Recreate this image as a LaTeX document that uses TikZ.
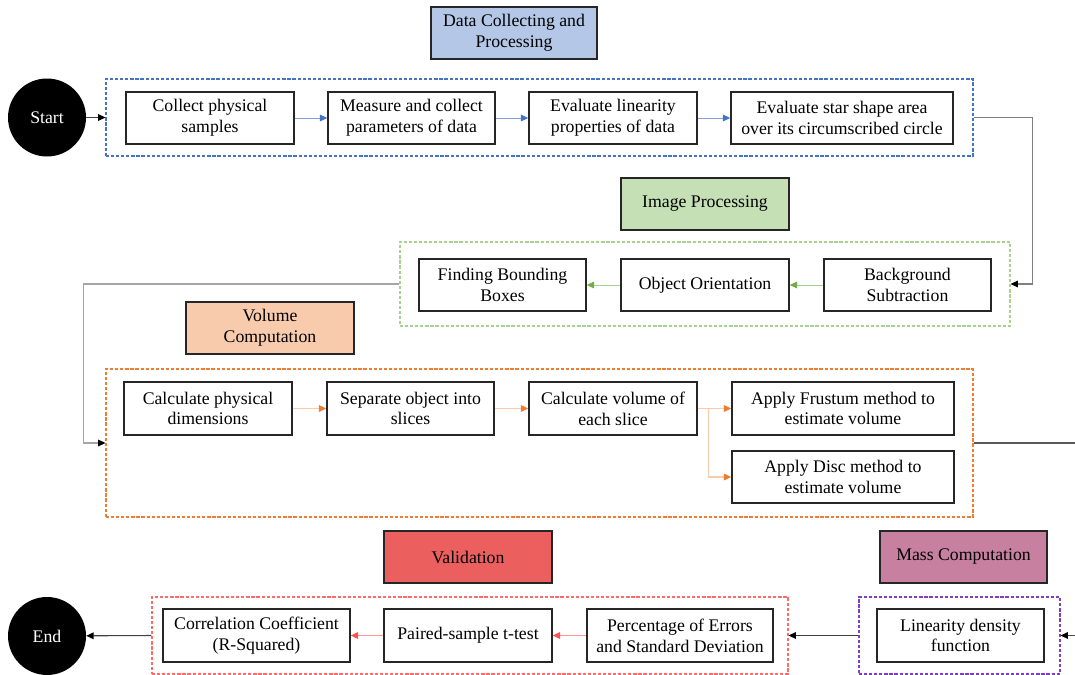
\documentclass[tikz,border=0pt]{standalone}
\usepackage{fontspec}
\setmainfont{Liberation Serif}
\usetikzlibrary{arrows.meta}
\definecolor{boxline}{HTML}{262626}
\definecolor{tblue}{HTML}{B4C7E7}
\definecolor{tgreen}{HTML}{C5E0B4}
\definecolor{tpeach}{HTML}{F8CBAD}
\definecolor{tred}{HTML}{EB5F5F}
\definecolor{tmauve}{HTML}{C880A0}
\definecolor{cblue}{HTML}{4472C4}
\definecolor{cgreen}{HTML}{A9D18E}
\definecolor{corange}{HTML}{ED7D31}
\definecolor{cred}{HTML}{FF6B6B}
\definecolor{cpurple}{HTML}{7F3FBF}
\definecolor{lblue}{HTML}{7FA0D8}
\definecolor{hblue}{HTML}{4472C4}
\definecolor{lgreen}{HTML}{A9D18E}
\definecolor{hgreen}{HTML}{70AD47}
\definecolor{lorange}{HTML}{F8CBAD}
\definecolor{horange}{HTML}{ED7D31}
\definecolor{lred}{HTML}{FF9999}
\definecolor{hred}{HTML}{FF5050}
\begin{document}
\begin{tikzpicture}[x=0.75pt,y=-0.75pt,
  txt/.style={font=\fontsize{13.3}{15.6}\selectfont},
  box/.style={draw=boxline, line width=1.1pt, fill=white, align=center, inner sep=0pt, txt},
  sz/.style 2 args={minimum width=#1*0.75pt, minimum height=#2*0.75pt},
  ttl/.style={box, fill=#1},
  cont/.style={draw=#1, dash pattern=on 2.4pt off 1.4pt, line width=0.8pt, inner sep=0pt},
  term/.style={circle, fill=black, text=white, inner sep=0pt, minimum size=58.5pt, txt},
  tipk/.style={-{Triangle[length=5.5pt,width=5pt,color=#1]}},
  arb/.style={draw=lblue, line width=0.75pt, tipk=hblue},
  arg/.style={draw=lgreen, line width=0.75pt, tipk=hgreen},
  aro/.style={draw=lorange, line width=0.9pt, tipk=horange},
  arr/.style={draw=lred, line width=0.75pt, tipk=hred},
  conn/.style={draw=#1, line width=0.8pt, tipk=black},
]
\useasboundingbox (0,0) rectangle (1075,675);
\clip (0,0) rectangle (1075,675);

% terminals
\node[term] (start) at (47,117.5) {Start};
\node[term] (end) at (47,636) {End};

% titles
\node[ttl=tblue, sz={166}{52}] (t1) at (514,33) {Data Collecting and\\Processing};
\node[ttl=tgreen, sz={168}{52}] (t2) at (705,204) {Image Processing};
\node[ttl=tpeach, sz={168}{52}] (t3) at (270,328) {Volume\\Computation};
\node[ttl=tred, sz={168}{52}] (t4) at (468,557) {Validation};
\node[ttl=tmauve, sz={167}{52}] (t5) at (963.5,557) {Mass Computation};

% containers
\node[cont=cblue, sz={867}{77}] (c1) at (539.5,117.5) {};
\node[cont=cgreen, sz={610}{84}] (c2) at (705,284) {};
\node[cont=corange, sz={867}{148}] (c3) at (539.5,443) {};
\node[cont=cred, sz={636}{77}] (c4) at (470,635.5) {};
\node[cont=cpurple, sz={201}{77}] (c5) at (959.5,635.5) {};

% row 1
\node[box, sz={168}{52}] (a1) at (210,118) {Collect physical\\samples};
\node[box, sz={167}{52}] (a2) at (411.5,118) {Measure and collect\\parameters of data};
\node[box, sz={168}{52}] (a3) at (613,118) {Evaluate linearity\\properties of data};
\node[box, sz={222}{52}] (a4) at (842,118) {Evaluate star shape area\\over its circumscribed circle};

% row 2
\node[box, sz={167}{52}] (b1) at (907.5,285) {Background\\Subtraction};
\node[box, sz={168}{52}] (b2) at (705,285) {Object Orientation};
\node[box, sz={167}{52}] (b3) at (502.5,285) {Finding Bounding\\Boxes};

% row 3
\node[box, sz={168}{53}] (d1) at (208,408.5) {Calculate physical\\dimensions};
\node[box, sz={167}{53}] (d2) at (410.5,408.5) {Separate object into\\slices};
\node[box, sz={168}{53}] (d3) at (613,408.5) {Calculate volume of\\each slice};
\node[box, sz={222}{53}] (d4) at (843,408.5) {Apply Frustum method to\\estimate volume};
\node[box, sz={222}{52}] (d5) at (843,477) {Apply Disc method to\\estimate volume};

% row 4
\node[box, sz={167}{53}] (f1) at (960.5,635.5) {Linearity density\\function};
\node[box, sz={186}{53}] (e3) at (680,635.5) {Percentage of Errors\\and Standard Deviation};
\node[box, sz={168}{53}] (e2) at (468,635.5) {Paired-sample t-test};
\node[box, sz={187}{53}] (e1) at (256.5,635.5) {Correlation Coefficient\\(R-Squared)};

% edge coordinates
\coordinate (edgeA) at (1085,443);
\coordinate (edgeB) at (1085,635.5);

% connectors
\draw[conn=black!75] (start) -- (c1.west);
\draw[arb] (a1) -- (a2);
\draw[arb] (a2) -- (a3);
\draw[arb] (a3) -- (a4);
\draw[conn=black!50] (c1.east) -- ++(59,0) |- (c2.east);
\draw[arg] (b1) -- (b2);
\draw[arg] (b2) -- (b3);
\draw[conn=black!35] (c2.west) -- ++(-316,0) |- (c3.west);
\draw[aro] (d1) -- (d2);
\draw[aro] (d2) -- (d3);
\draw[aro] (d3.east) -- (d4.west);
\draw[aro] (d3.east) -- ++(11,0) |- (d5.west);
\draw[draw=black!65, line width=0.8pt] (c3.east) -- (edgeA);
\draw[conn=black!70] (edgeB) -- (c5.east);
\draw[conn=black!75] (c5.west) -- (c4.east);
\draw[arr] (e3) -- (e2);
\draw[arr] (e2) -- (e1);
\draw[conn=black!75] (c4.west) -- (end);
\end{tikzpicture}
\end{document}
